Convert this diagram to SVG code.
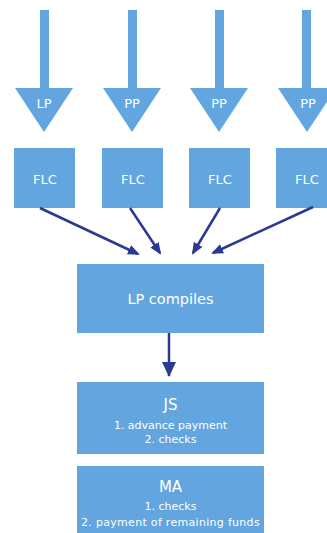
<svg xmlns="http://www.w3.org/2000/svg" width="327" height="533" viewBox="0 0 327 533">
<defs>
<style>
.bx{fill:#63a6df}
.t{fill:#ffffff;font-family:"DejaVu Sans",Verdana,sans-serif;text-anchor:middle;dominant-baseline:central}
.c{stroke:#2b3990;stroke-width:2.5;fill:none}
</style>
<marker id="ah" markerWidth="12" markerHeight="10" refX="10" refY="5" orient="auto" markerUnits="userSpaceOnUse"><path d="M0,0 L12,5 L0,10 z" fill="#2b3990"/></marker>
<marker id="ah2" markerWidth="16" markerHeight="14" refX="14" refY="7" orient="auto" markerUnits="userSpaceOnUse"><path d="M0,0 L15,7 L0,14 z" fill="#2b3990"/></marker>
</defs>
<rect width="327" height="533" fill="#ffffff"/>
<g id="arrow-lp">
<rect class="bx" x="40" y="10" width="9" height="80"/>
<path class="bx" d="M15,88 L73,88 L44,132 z"/>
<text class="t" x="44" y="103" font-size="13">LP</text>
</g>
<g id="arrow-pp1">
<rect class="bx" x="128" y="10" width="9" height="80"/>
<path class="bx" d="M103,88 L161,88 L132,132 z"/>
<text class="t" x="132" y="103" font-size="13">PP</text>
</g>
<g id="arrow-pp2">
<rect class="bx" x="215" y="10" width="9" height="80"/>
<path class="bx" d="M190,88 L248,88 L219,132 z"/>
<text class="t" x="219" y="103" font-size="13">PP</text>
</g>
<g id="arrow-pp3">
<rect class="bx" x="302" y="10" width="9" height="80"/>
<path class="bx" d="M278,88 L336,88 L307,132 z"/>
<text class="t" x="308" y="103" font-size="13">PP</text>
</g>
<g id="flc1"><rect class="bx" x="14" y="148" width="61" height="60"/><text class="t" x="45" y="179" font-size="13">FLC</text></g>
<g id="flc2"><rect class="bx" x="102" y="148" width="61" height="60"/><text class="t" x="133" y="179" font-size="13">FLC</text></g>
<g id="flc3"><rect class="bx" x="189" y="148" width="61" height="60"/><text class="t" x="220" y="179" font-size="13">FLC</text></g>
<g id="flc4"><rect class="bx" x="276" y="148" width="61" height="60"/><text class="t" x="307" y="179" font-size="13">FLC</text></g>
<g id="lp-compiles"><rect class="bx" x="77" y="264" width="187" height="69"/><text class="t" x="170.5" y="299" font-size="14.5">LP compiles</text></g>
<g id="js"><rect class="bx" x="77" y="382" width="187" height="72"/>
<text class="t" x="170.5" y="405" font-size="15">JS</text>
<text class="t" x="170.5" y="425" font-size="11">1. advance payment</text>
<text class="t" x="170.5" y="439" font-size="11">2. checks</text></g>
<g id="ma"><rect class="bx" x="77" y="466" width="187" height="70"/>
<text class="t" x="170.5" y="487" font-size="15">MA</text>
<text class="t" x="170.5" y="506" font-size="11">1. checks</text>
<text class="t" x="170.5" y="522" font-size="11" letter-spacing="0.3">2. payment of remaining funds</text></g>
<g id="connectors">
<line class="c" x1="40" y1="208" x2="138" y2="254" marker-end="url(#ah)"/>
<line class="c" x1="130" y1="208" x2="160" y2="253" marker-end="url(#ah)"/>
<line class="c" x1="220" y1="208" x2="193" y2="253" marker-end="url(#ah)"/>
<line class="c" x1="313" y1="207" x2="213" y2="253" marker-end="url(#ah)"/>
<line class="c" x1="169" y1="333" x2="169" y2="376" marker-end="url(#ah2)"/>
</g>
</svg>
